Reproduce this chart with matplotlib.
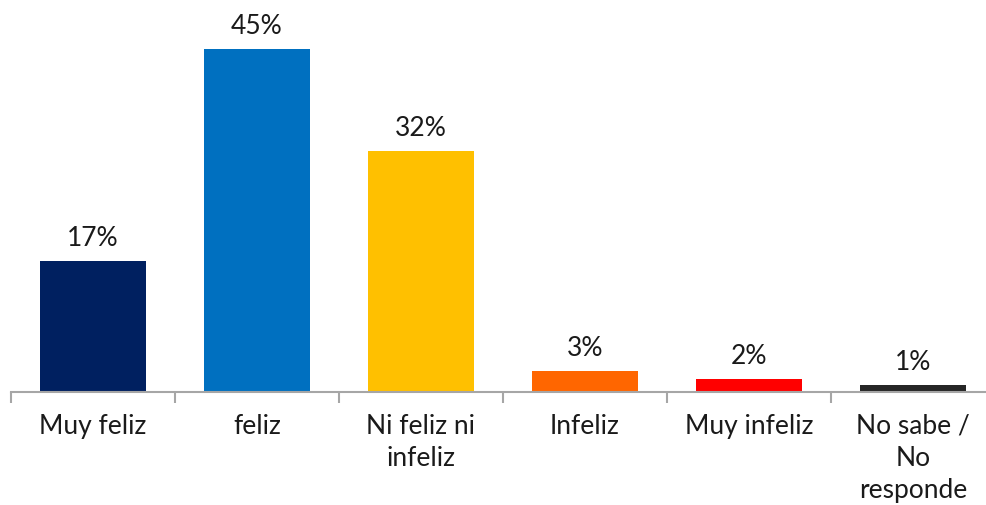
import matplotlib
matplotlib.use("Agg")
import matplotlib.pyplot as plt
import numpy as np

categories = ["Muy feliz", "feliz", "Ni feliz ni\ninfeliz", "Infeliz", "Muy infeliz", "No sabe /\nNo\nresponde"]
values = [17.2, 45.0, 31.6, 2.8, 1.7, 0.9]
colors = ["#002060", "#0070C0", "#FFC000", "#FF6600", "#FF0000", "#262626"]

plt.rcParams['font.family'] = ['Lato', 'DejaVu Sans']

fig = plt.figure(figsize=(9.86, 5.06), dpi=100)
ax = fig.add_axes([11 / 986, 113 / 506, 984 / 986, 393 / 506])

x = np.arange(len(categories))
bars = ax.bar(x, values, width=0.65, color=colors)
for b, v in zip(bars, values):
    ax.annotate(f"{v:.0f}%", (b.get_x() + b.get_width() / 2, v),
                xytext=(0, 8), textcoords="offset points",
                ha="center", va="bottom", fontsize=19, color="#1a1a1a")

ax.set_xlim(-0.5, len(categories) - 0.5)
ax.set_ylim(0, 51.6)
ax.set_yticks([])
for s in ["top", "right", "left"]:
    ax.spines[s].set_visible(False)
ax.spines["bottom"].set_color("#a6a6a6")
ax.spines["bottom"].set_linewidth(1.5)

ax.set_xticks(x)
ax.set_xticklabels(categories, fontsize=19, color="#1a1a1a", linespacing=1.35)
ax.tick_params(axis="x", which="major", length=0, pad=15)
ax.set_xticks(np.arange(-0.5, len(categories)), minor=True)
ax.tick_params(axis="x", which="minor", length=8, width=1.5, color="#a6a6a6", direction="out")

fig.savefig("out.png", dpi=100)
